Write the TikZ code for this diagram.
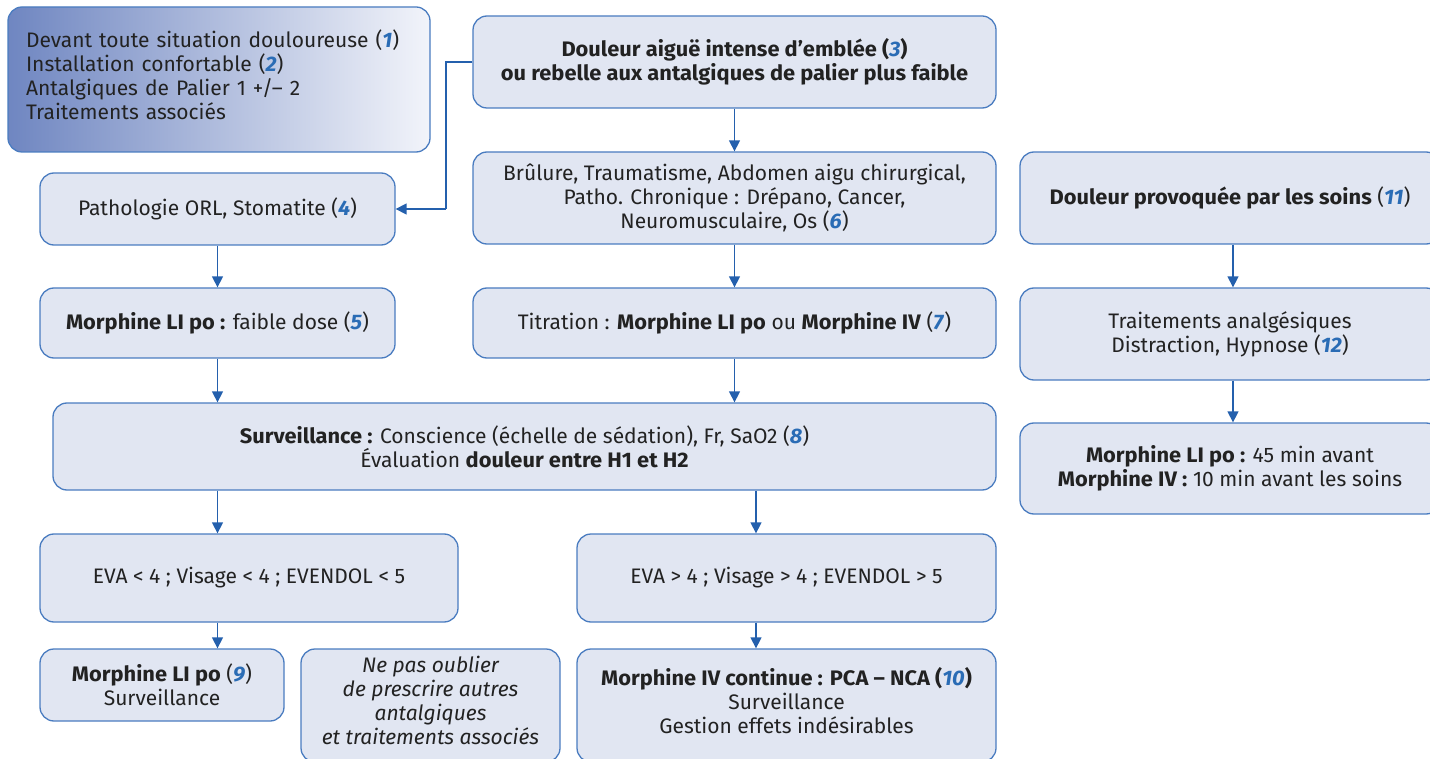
\documentclass[tikz,border=0pt]{standalone}
\usepackage{fontspec}
\setmainfont[Ligatures=NoCommon, BoldFeatures={FakeStretch=1.04}, BoldItalicFeatures={FakeStretch=1.04}]{Fira Sans}
\usetikzlibrary{arrows.meta,calc}
\definecolor{boxfill}{HTML}{E1E6F2}
\definecolor{boxline}{HTML}{4A7CC0}
\definecolor{arrcol}{HTML}{2460AD}
\definecolor{numcol}{HTML}{2A6CB5}
\definecolor{txt}{HTML}{222222}
\definecolor{gradL}{HTML}{6F86C1}
\definecolor{gradR}{HTML}{F2F4FA}
\newcommand{\nb}[1]{\textcolor{numcol}{\textbf{\textit{#1}}}}
\tikzset{
  box/.style={draw=boxline, line width=1.3pt, fill=boxfill, rounded corners=14pt,
    text=txt, align=center, inner sep=0pt,
    font=\fontsize{21}{24}\selectfont},
  arr/.style={draw=arrcol, line width=1.4pt, -{Triangle[width=11pt,length=11pt]}},
}
\begin{document}
\begin{tikzpicture}[x=1pt,y=-1pt]
\useasboundingbox (0,0) rectangle (1430,759);
\node[box, left color=gradL, right color=gradR, minimum width=422pt, minimum height=145pt,
  text width=386pt, align=left, text depth=82pt] (b1) at (219,79.5)
  {Devant toute situation douloureuse (\nb{1})\\Installation confortable (\nb{2})\\Antalgiques de Palier 1 +/-- 2\\Traitements associés};
\node[box, minimum width=523pt, minimum height=92pt] (b3) at (734.5,62)
  {\textbf{Douleur aiguë intense d’emblée (\nb{3})}\\\textbf{ou rebelle aux antalgiques de palier plus faible}};
\node[box, minimum width=355pt, minimum height=72pt] (b4) at (217.5,209)
  {Pathologie ORL, Stomatite (\nb{4})};
\node[box, minimum width=523pt, minimum height=92pt] (b6) at (734.5,198)
  {Brûlure, Traumatisme, Abdomen aigu chirurgical,\\Patho. Chronique : Drépano, Cancer,\\Neuromusculaire, Os (\nb{6})};
\node[box, minimum width=420pt, minimum height=92pt] (b11) at (1230,198)
  {\textbf{Douleur provoquée par les soins} (\nb{11})};
\node[box, minimum width=355pt, minimum height=70pt] (b5) at (217.5,323)
  {\textbf{Morphine LI po :} faible dose (\nb{5})};
\node[box, minimum width=523pt, minimum height=70pt] (b7) at (734.5,323)
  {Titration : \textbf{Morphine LI po} ou \textbf{Morphine IV} (\nb{7})};
\node[box, minimum width=420pt, minimum height=92pt] (b12) at (1230,334)
  {Traitements analgésiques\\Distraction, Hypnose (\nb{12})};
\node[box, minimum width=943pt, minimum height=87pt] (b8) at (524.5,446.5)
  {\textbf{Surveillance :} Conscience (échelle de sédation), Fr, SaO2 (\nb{8})\\Évaluation \textbf{douleur entre H1 et H2}};
\node[box, minimum width=420pt, minimum height=91pt] (b13) at (1230,468.5)
  {\textbf{Morphine LI po :} 45 min avant\\\textbf{Morphine IV :} 10 min avant les soins};
\node[box, minimum width=418pt, minimum height=88pt] (evl) at (249,578)
  {EVA < 4 ; Visage < 4 ; EVENDOL < 5};
\node[box, minimum width=419pt, minimum height=88pt] (evr) at (786.5,578)
  {EVA > 4 ; Visage > 4 ; EVENDOL > 5};
\node[box, minimum width=244pt, minimum height=72pt] (b9) at (162,685)
  {\textbf{Morphine LI po} (\nb{9})\\Surveillance};
\node[box, minimum width=259pt, minimum height=113pt, text depth=11pt] (np) at (430.5,705.5)
  {\itshape Ne pas oublier\\\itshape de prescrire autres\\\itshape antalgiques\\\itshape et traitements associés};
\node[box, minimum width=419pt, minimum height=113pt, text depth=11pt] (b10) at (786.5,705.5)
  {\textbf{Morphine IV continue : PCA -- NCA (\nb{10})}\\Surveillance\\Gestion effets indésirables};
% connectors
\coordinate (k1) at (446,209);
\draw[arr, -] (b3.west) -| (k1);
\draw[arr] (k1) -- (b4.east);
\draw[arr] (b3.south) -- (b6.north);
\draw[arr] (b6.south) -- (b7.north);
\draw[arr] (b4.south) -- (b5.north);
\draw[arr] (b5.south) -- (b5.south |- b8.north);
\draw[arr] (b7.south) -- (b7.south |- b8.north);
\draw[arr] (b11.south -| 1233,0) -- (b12.north -| 1233,0);
\draw[arr] (b12.south -| 1233,0) -- (b13.north -| 1233,0);
\draw[arr] (b5.south |- b8.south) -- (b5.south |- evl.north);
\draw[arr] (b8.south -| 756,0) -- (evr.north -| 756,0);
\draw[arr] (b5.south |- evl.south) -- (b5.south |- b9.north);
\draw[arr] (evr.south -| 756,0) -- (b10.north -| 756,0);
\end{tikzpicture}
\end{document}
